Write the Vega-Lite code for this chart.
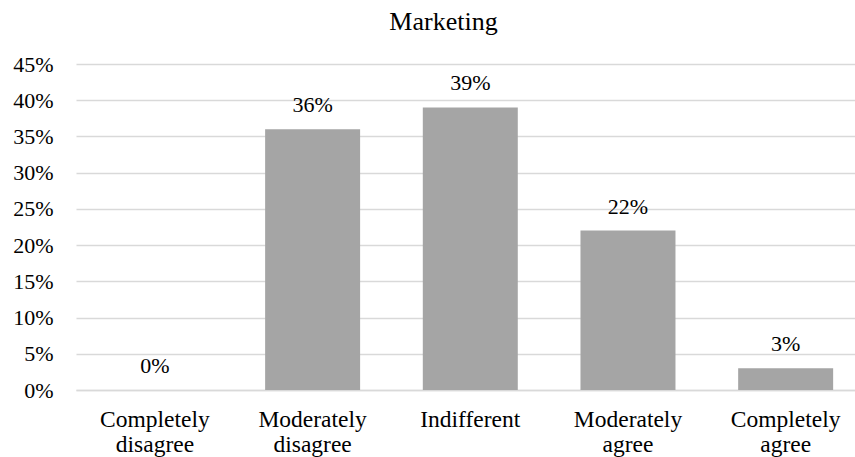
{
  "$schema": "https://vega.github.io/schema/vega-lite/v6.json",
  "autosize": {"type": "none"},
  "width": 779,
  "height": 326,
  "padding": {"left": 76, "top": 64, "right": 0, "bottom": 67},
  "background": "white",
  "title": {
    "text": "Marketing",
    "font": "Times New Roman, Liberation Serif, serif",
    "fontSize": 26,
    "fontWeight": "normal",
    "color": "#000000",
    "anchor": "middle",
    "frame": "group",
    "dx": -22,
    "offset": 18
  },
  "data": {
    "values": [
      {"category": "Completely disagree", "value": 0.0},
      {"category": "Moderately disagree", "value": 0.36},
      {"category": "Indifferent", "value": 0.39},
      {"category": "Moderately agree", "value": 0.22},
      {"category": "Completely agree", "value": 0.03}
    ]
  },
  "config": {
    "view": {"stroke": null},
    "font": "Times New Roman, Liberation Serif, serif"
  },
  "encoding": {
    "x": {
      "field": "category",
      "type": "nominal",
      "sort": null,
      "scale": {"paddingInner": 0.3976, "paddingOuter": 0.169, "align": 0.59},
      "axis": {
        "title": null,
        "labelAngle": 0,
        "labelFont": "Times New Roman, Liberation Serif, serif",
        "labelFontSize": 23.5,
        "labelColor": "#000000",
        "labelExpr": "split(datum.label, ' ')",
        "labelLineHeight": 25,
        "labelPadding": 17,
        "ticks": false,
        "domainColor": "#D9D9D9",
        "domainWidth": 1.5,
        "grid": false
      }
    },
    "y": {
      "field": "value",
      "type": "quantitative",
      "scale": {"domain": [0, 0.45], "nice": false},
      "axis": {
        "title": null,
        "values": [0, 0.05, 0.1, 0.15, 0.2, 0.25, 0.3, 0.35, 0.4, 0.45],
        "format": ".0%",
        "labelFont": "Times New Roman, Liberation Serif, serif",
        "labelFontSize": 22,
        "labelColor": "#000000",
        "labelPadding": 23,
        "ticks": false,
        "domain": false,
        "grid": true,
        "gridColor": "#D9D9D9",
        "gridWidth": 1.5
      }
    }
  },
  "layer": [
    {
      "mark": {"type": "bar", "color": "#A5A5A5"}
    },
    {
      "mark": {
        "type": "text",
        "font": "Times New Roman, Liberation Serif, serif",
        "fontSize": 22,
        "color": "#000000",
        "baseline": "alphabetic",
        "dy": -17
      },
      "encoding": {
        "text": {"field": "value", "type": "quantitative", "format": ".0%"}
      }
    }
  ]
}
